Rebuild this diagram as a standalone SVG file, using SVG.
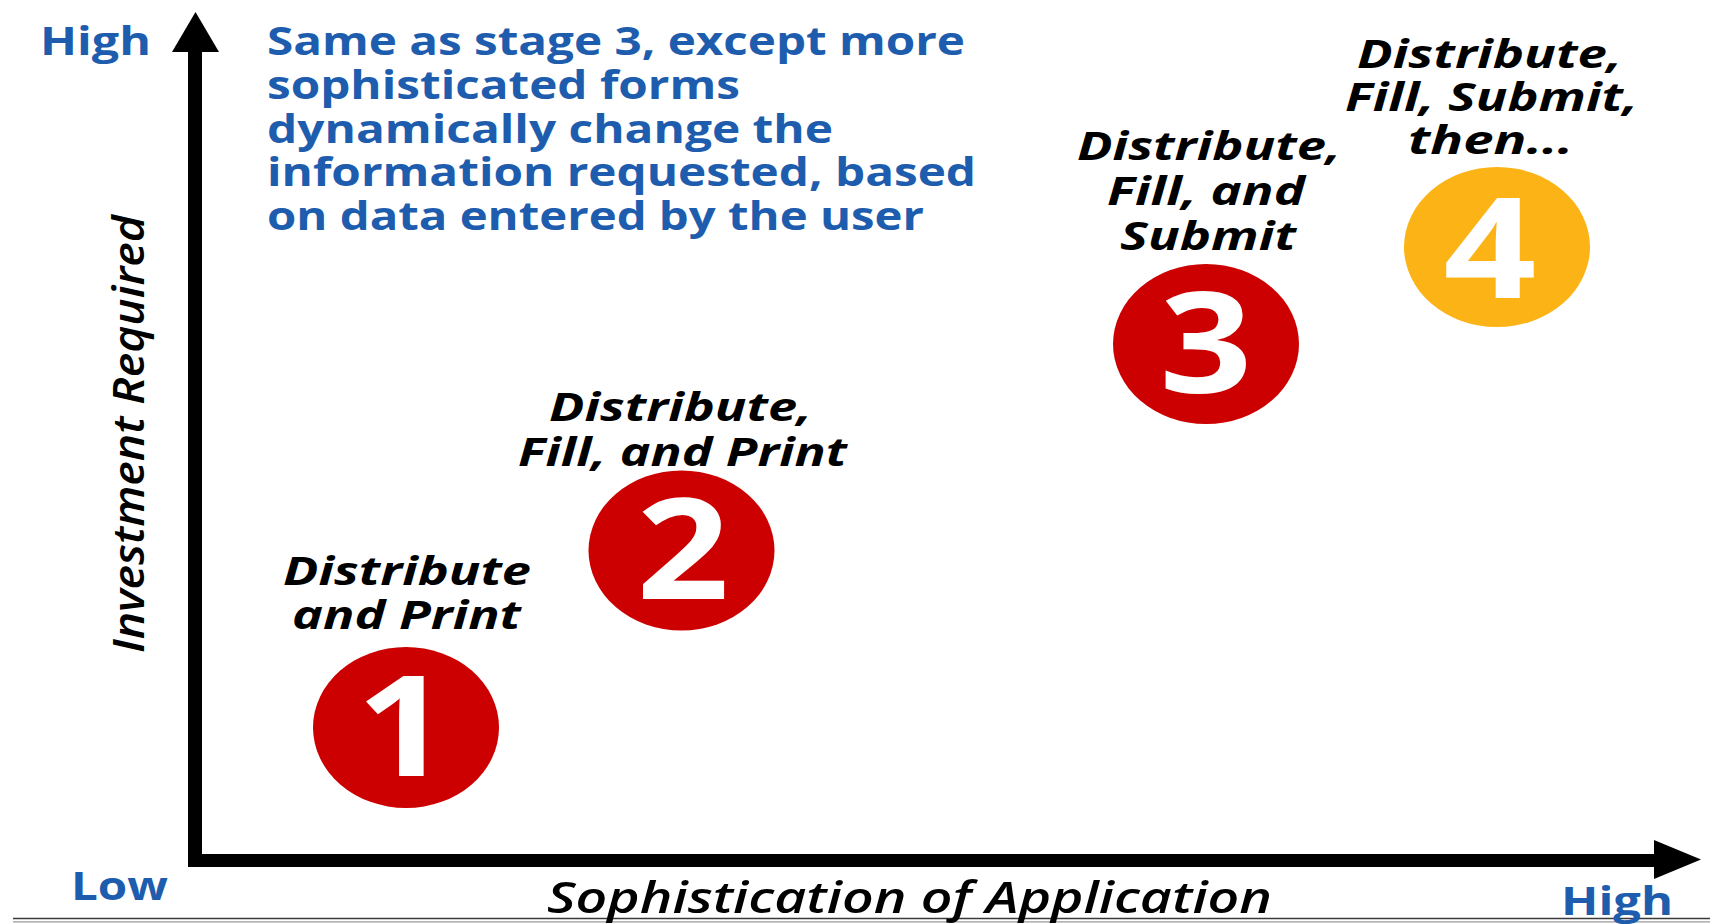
<svg xmlns="http://www.w3.org/2000/svg" width="1710" height="924" viewBox="0 0 1710 924">
  <style>
    .blue { font-family: "Open Sans", "Liberation Sans", sans-serif; font-weight: 700; font-size: 40px; fill: #1E5DAE; }
    .lbl { font-family: "Open Sans", "Liberation Sans", sans-serif; font-weight: 700; font-style: italic; font-size: 40px; fill: #000; }
    .axis { font-family: "Open Sans", "Liberation Sans", sans-serif; font-weight: 600; font-style: italic; font-size: 44px; fill: #000; }
    .num { font-family: "Open Sans", "Liberation Sans", sans-serif; font-weight: 700; font-size: 140px; fill: #fff; text-anchor: middle; }
    .red { fill: #CC0000; }
    .gold { fill: #FCB316; }
  </style>
  <rect x="0" y="0" width="1710" height="924" fill="#fff"/>

  <!-- bottom double rule -->
  <line x1="13" y1="918.5" x2="1710" y2="918.5" stroke="#3a3a3a" stroke-width="1.6"/>
  <line x1="13" y1="921.8" x2="1710" y2="921.8" stroke="#9a9a9a" stroke-width="1.2"/>

  <!-- axes -->
  <g id="connectors">
    <line x1="195" y1="48" x2="195" y2="867" stroke="#000" stroke-width="14"/>
    <polygon points="195.5,12 219,52 172,52" fill="#000"/>
    <line x1="188" y1="860.5" x2="1658" y2="860.5" stroke="#000" stroke-width="13"/>
    <polygon points="1701,859.5 1654,840 1654,879" fill="#000"/>
  </g>

  <!-- axis labels -->
  <g id="axis-labels">
    <text class="blue" x="40" y="55" textLength="111" lengthAdjust="spacingAndGlyphs">High</text>
    <text class="blue" x="71" y="900" textLength="97" lengthAdjust="spacingAndGlyphs">Low</text>
    <text class="blue" x="1561" y="915" textLength="112" lengthAdjust="spacingAndGlyphs">High</text>
    <text class="axis" x="547" y="913" textLength="725" lengthAdjust="spacingAndGlyphs">Sophistication of Application</text>
    <text class="axis" transform="translate(144,434) rotate(-90)" x="-219" y="0" textLength="438" lengthAdjust="spacingAndGlyphs">Investment Required</text>
  </g>

  <!-- description -->
  <g id="description">
    <text class="blue">
      <tspan x="267" y="55" textLength="698" lengthAdjust="spacingAndGlyphs">Same as stage 3, except more</tspan>
      <tspan x="267" y="99" textLength="473" lengthAdjust="spacingAndGlyphs">sophisticated forms</tspan>
      <tspan x="267" y="143" textLength="566" lengthAdjust="spacingAndGlyphs">dynamically change the</tspan>
      <tspan x="267" y="186" textLength="709" lengthAdjust="spacingAndGlyphs">information requested, based</tspan>
      <tspan x="267" y="230" textLength="657" lengthAdjust="spacingAndGlyphs">on data entered by the user</tspan>
    </text>
  </g>

  <g id="stage1">
    <ellipse class="red" cx="406" cy="727.5" rx="93" ry="80.5"/>
    <text class="num" transform="translate(403,776) scale(1.16,1)">1</text>
    <text class="lbl">
      <tspan x="283" y="585" textLength="248" lengthAdjust="spacingAndGlyphs">Distribute</tspan>
      <tspan x="292" y="629" textLength="229" lengthAdjust="spacingAndGlyphs">and Print</tspan>
    </text>
  </g>

  <g id="stage2">
    <ellipse class="red" cx="681.5" cy="550.5" rx="93" ry="80"/>
    <text class="num" transform="translate(683,599) scale(1.16,1)">2</text>
    <text class="lbl">
      <tspan x="549" y="421" textLength="263" lengthAdjust="spacingAndGlyphs">Distribute,</tspan>
      <tspan x="518" y="466" textLength="329" lengthAdjust="spacingAndGlyphs">Fill, and Print</tspan>
    </text>
  </g>

  <g id="stage3">
    <ellipse class="red" cx="1206" cy="344" rx="93" ry="80"/>
    <text class="num" transform="translate(1206,393) scale(1.16,1)">3</text>
    <text class="lbl">
      <tspan x="1077" y="160" textLength="264" lengthAdjust="spacingAndGlyphs">Distribute,</tspan>
      <tspan x="1107" y="205" textLength="198" lengthAdjust="spacingAndGlyphs">Fill, and</tspan>
      <tspan x="1120" y="250" textLength="176" lengthAdjust="spacingAndGlyphs">Submit</tspan>
    </text>
  </g>

  <g id="stage4">
    <ellipse class="gold" cx="1497" cy="247" rx="93" ry="80"/>
    <text class="num" transform="translate(1490,298) scale(1.16,1)">4</text>
    <text class="lbl">
      <tspan x="1357" y="68" textLength="265" lengthAdjust="spacingAndGlyphs">Distribute,</tspan>
      <tspan x="1345" y="111" textLength="293" lengthAdjust="spacingAndGlyphs">Fill, Submit,</tspan>
      <tspan x="1408" y="154" textLength="165" lengthAdjust="spacingAndGlyphs">then...</tspan>
    </text>
  </g>
</svg>
